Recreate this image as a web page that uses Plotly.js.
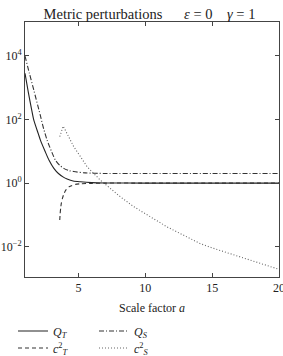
<!DOCTYPE html>
<html>
<head>
<meta charset="utf-8">
<script src="https://cdn.plot.ly/plotly-3.0.1.min.js"></script>
<style>html,body{margin:0;padding:0;background:#fff;}#chart{width:283px;height:356px;}</style>
</head>
<body>
<div id="chart"></div>
<script>
// Scale factor a and series values
const aQT = [1, 1.25, 1.5, 1.66, 2.0, 2.16, 2.5, 2.8, 3.16, 3.5, 3.9, 4.15, 4.6, 5.15, 6, 7, 10, 15, 20];
const QT  = [2800, 710, 200, 95, 35, 22, 10, 5.2, 2.9, 2.0, 1.51, 1.35, 1.17, 1.10, 1.035, 1.01, 1, 1, 1];

const aQS = [1, 1.33, 1.66, 2.04, 2.16, 2.4, 2.66, 3.0, 3.28, 3.6, 3.9, 4.3, 4.65, 5.5, 7, 10, 15, 20];
const QS  = [9800, 2800, 830, 200, 126, 50, 22, 9.5, 5.2, 3.6, 2.9, 2.45, 2.3, 2.09, 2.0, 2.0, 2.0, 2.0];

const aCT = [3.6, 3.63, 3.67, 3.72, 3.8, 3.9, 4.05, 4.28, 4.5, 4.78, 5.2, 6, 7, 10, 15, 20];
const cT2 = [0.069, 0.112, 0.166, 0.234, 0.33, 0.45, 0.60, 0.76, 0.83, 0.91, 0.955, 0.98, 1, 1, 1, 1];

const aCS = [3.6, 3.86, 4.2, 4.65, 5.15, 5.65, 6.64, 8.13, 9.13, 10, 11.6, 12.5, 14.1, 15, 16.6, 18, 19.1, 20];
const cS2 = [28.8, 61.7, 32.4, 13.8, 6.76, 3.24, 1.23, 0.372, 0.182, 0.11, 0.0427, 0.0275, 0.0126, 0.0092, 0.0055, 0.0037, 0.0026, 0.00195];

const xTicks = [5, 10, 15, 20];
const yTicks = [0.01, 1, 100, 10000];
const yTickText = ['10<sup>−2</sup>', '10<sup>0</sup>', '10<sup>2</sup>', '10<sup>4</sup>'];

const NB = '\u00A0';
const titleText = 'Metric perturbations' + NB.repeat(6) + '<i>ε</i> = 0' + NB.repeat(4) + '<i>γ</i> = 1';
const xTitle = 'Scale factor <i>a</i>';
const names = ['<i>Q<sub>T</sub></i>', '<i>c</i><sup>2</sup><sub><i>T</i></sub>', '<i>Q<sub>S</sub></i>', '<i>c</i><sup>2</sup><sub><i>S</i></sub>'];

const FAM = '"Liberation Serif", "DejaVu Serif", serif';
const font = {family: FAM, size: 12, color: '#222'};
const titleFont = {family: FAM, size: 14.5, color: '#222'};

const traces = [
  {x: aQT, y: QT, name: names[0], mode: 'lines', line: {color: '#222', width: 1.1, dash: 'solid', shape: 'spline', smoothing: 0.7}, legend: 'legend'},
  {x: aCT, y: cT2, name: names[1], mode: 'lines', line: {color: '#333', width: 1.1, dash: '4px,3px', shape: 'spline', smoothing: 0.5}, legend: 'legend2'},
  {x: aQS, y: QS, name: names[2], mode: 'lines', line: {color: '#333', width: 1.1, dash: '5px,2px,1px,2px', shape: 'spline', smoothing: 0.7}, legend: 'legend3'},
  {x: aCS, y: cS2, name: names[3], mode: 'lines', line: {color: '#666', width: 1.1, dash: '1px,2px'}, legend: 'legend4'}
];

function leg(xpx, ypx) {
  return {
    orientation: 'v', xref: 'container', yref: 'container',
    x: xpx / 283, y: 1 - ypx / 356, xanchor: 'left', yanchor: 'middle',
    bgcolor: 'rgba(0,0,0,0)', borderwidth: 0, font: font, itemwidth: 30
  };
}

const layout = {
  width: 283, height: 356,
  margin: {l: 25, r: 4, t: 22, b: 79, autoexpand: false},
  paper_bgcolor: '#fff', plot_bgcolor: '#fff',
  font: font,
  title: {text: titleText, font: titleFont, xref: 'container', x: 149.5 / 283, xanchor: 'center', yref: 'container', y: 1 - 14 / 356, yanchor: 'middle'},
  xaxis: {
    range: [1, 20], tickvals: xTicks, ticktext: xTicks.map(String),
    ticks: 'inside', ticklen: 4, tickcolor: '#444', showline: true, linecolor: '#444', linewidth: 1,
    mirror: 'ticks', showgrid: false, zeroline: false, ticklabeloverflow: 'allow',
    title: {text: xTitle, font: font, standoff: 9},
    tickfont: font
  },
  yaxis: {
    type: 'log', range: [-2.95, 5.06], tickvals: yTicks, ticktext: yTickText,
    ticks: 'inside', ticklen: 4, tickcolor: '#444', showline: true, linecolor: '#444', linewidth: 1,
    mirror: 'ticks', showgrid: false, zeroline: false, tickfont: font
  },
  legend: leg(13, 331),
  legend2: leg(13, 348),
  legend3: leg(94, 331),
  legend4: leg(94, 348),
  showlegend: true
};

Plotly.newPlot('chart', traces, layout, {staticPlot: true, displayModeBar: false});
</script>
</body>
</html>
